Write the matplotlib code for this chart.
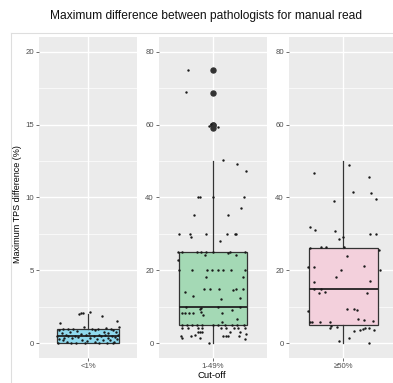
import matplotlib.pyplot as plt
from matplotlib.lines import Line2D

plt.rcParams['font.family'] = ['Liberation Sans', 'DejaVu Sans']

# categories and box summaries
cutoffs = ['<1%', '1-49%', '\u226550%']
q1s = [0, 5, 5]
medians = [0.5, 10, 15]
q3s = [1, 25, 26.25]
whisk_lo = [0, 0, 0]
whisk_hi = [2, 50, 50]
outliers = [[], [59, 60, 60, 68.75, 75], []]
box_colors = ['#8fd9ee', '#a4d9b5', '#f3d0dc']

# jittered raw points (value, horizontal jitter)
vals1 = [2.0, 2.05, 2.1, 2.15, 1.85, 1.55, 1.4, 1.1, 1.1, 1.05,
         1.0, 1.0, 1.0, 1.0, 1.0, 1.0, 0.9, 0.9, 0.9, 0.85,
         0.8, 0.8, 0.75, 0.7, 0.7, 0.7, 0.65, 0.6, 0.6, 0.6,
         0.55, 0.55, 0.5, 0.5, 0.5, 0.5, 0.5, 0.5, 0.45, 0.45,
         0.4, 0.4, 0.4, 0.35, 0.3, 0.3, 0.3, 0.25, 0.2, 0.2,
         0.2, 0.15, 0.1, 0.1, 0.1, 0.05, 0, 0, 0, 0,
         0, 0]
jit1 = [-0.11, -0.08, -0.06, 0.02, 0.17, 0.36, -0.34, 0.38, -0.05, 0.22,
        -0.30, -0.18, 0.05, 0.12, 0.28, -0.25, -0.36, 0.09, 0.31, -0.14,
        -0.22, 0.19, 0.34, -0.32, 0.01, 0.25, -0.09, -0.27, 0.14, 0.37,
        -0.03, 0.21, -0.38, -0.16, 0.07, 0.16, 0.29, -0.24, -0.12, 0.33,
        -0.29, 0.03, 0.24, -0.20, -0.35, 0.11, 0.35, -0.07, -0.31, 0.18,
        0.27, -0.01, -0.26, 0.08, 0.32, -0.15, -0.37, -0.21, -0.04, 0.13,
        0.23, 0.30]

vals2 = [75, 68.8, 60.2, 59.2, 59.6, 50.2, 49.2, 47.2,
         40, 40, 40, 40, 37.1, 35.2, 35.2,
         30, 30, 30, 30, 30, 30, 29.1, 28.2,
         25, 25, 25, 25, 25, 25, 25, 25, 24.1, 24.7, 24.1, 23,
         20, 20, 20, 20, 20, 20, 20, 20, 18.1, 18.1,
         14.2, 13, 15, 15, 15, 12.1, 14.7, 15, 15, 12.4,
         9.8, 9.5, 9.2, 10, 10, 10,
         8.2, 8.2, 8.2, 8.2, 7.7, 8.7, 8.2, 6.7, 5.8,
         5, 5, 5, 5, 5, 5, 5, 5, 5, 5, 5,
         4.1, 4.1, 4.1, 4.1, 4.1, 4.1, 4.1, 4.1, 4.1,
         3.2, 3.2, 3.2, 3.2, 3.2, 2.1, 2.1, 2.1, 2.1, 2.5, 1.2,
         2.1, 2.1, 1.5, 2.4, 1.6, 0.2]
jit2 = [-0.28, -0.30, -0.02, 0.06, -0.04, 0.11, 0.27, 0.37,
        -0.17, -0.14, 0.0, 0.34, 0.31, -0.21, 0.17,
        -0.38, -0.26, -0.08, 0.16, 0.24, 0.26, -0.24, 0.08,
        -0.39, -0.34, -0.18, -0.13, -0.08, 0.0, 0.19, 0.36, -0.09, 0.17, 0.26, -0.39,
        -0.38, -0.23, -0.07, -0.01, 0.05, 0.11, 0.20, 0.36, -0.08, 0.33,
        -0.31, -0.22, -0.10, -0.03, 0.07, 0.09, 0.22, 0.26, 0.33, 0.30,
        -0.13, -0.14, 0.21, 0.30, 0.05, -0.30,
        -0.35, -0.31, -0.27, -0.22, -0.11, -0.13, 0.10, 0.27, 0.10,
        -0.35, -0.29, -0.23, -0.18, -0.12, 0.0, 0.06, 0.13, 0.21, 0.27, 0.34,
        -0.35, -0.28, -0.17, -0.12, 0.09, 0.14, 0.23, 0.28, 0.35,
        -0.17, -0.15, -0.12, 0.19, 0.30, 0.11, 0.14, 0.17, 0.29, 0.37, 0.36,
        -0.36, -0.24, -0.35, -0.20, -0.14, -0.05]

vals3 = [46.8, 45.5, 41.6, 41.1, 39.5, 39.0, 49.0,
         32.0, 31.1, 30.7, 30.1, 30.1, 28.6, 29.3,
         26.2, 26.5, 26.5, 26.3, 25.5, 23.9,
         21.0, 21.0, 21.2, 20.2, 20.0, 18.3, 17.0, 16.7,
         14.8, 13.8, 14.0, 13.7, 15.0,
         9.3, 9.5, 9.2, 8.8,
         6.7, 6.4, 6.1, 6.0, 6.0, 6.0, 5.8,
         4.7, 4.5, 4.1, 4.3, 4.3, 3.7, 3.7, 3.9, 3.4,
         0.6, 1.4, 0.2]
jit3 = [-0.33, 0.28, 0.11, 0.30, 0.36, -0.10, 0.06,
        -0.37, -0.31, -0.09, 0.29, 0.36, -0.05, -0.01,
        -0.37, -0.25, -0.19, 0.01, 0.39, 0.04,
        -0.39, -0.33, 0.23, 0.40, -0.03, -0.08, 0.29, -0.32,
        -0.25, -0.27, -0.20, 0.26, -0.32,
        0.04, 0.12, 0.15, -0.39,
        0.16, 0.23, 0.33, -0.35, -0.26, -0.15, -0.37,
        -0.14, -0.07, -0.15, 0.24, 0.28, 0.34, 0.18, 0.21, 0.12,
        -0.05, 0.06, 0.28]

points = [(vals1, jit1), (vals2, jit2), (vals3, jit3)]
ylims = [(-1, 21), (-4, 84), (-4, 84)]
yticks = [[0, 5, 10, 15, 20], [0, 20, 40, 60, 80], [0, 20, 40, 60, 80]]
yminor = [[2.5, 7.5, 12.5, 17.5], [10, 30, 50, 70], [10, 30, 50, 70]]

W, H = 393, 383
fig = plt.figure(figsize=(W / 100, H / 100), dpi=100)

# light frame of the screenshot
fig.add_artist(Line2D([10.5 / W, 10.5 / W], [0, 1 - 32.5 / H], transform=fig.transFigure,
                      color='#dedede', lw=0.8))
fig.add_artist(Line2D([10.5 / W, 1], [1 - 32.5 / H, 1 - 32.5 / H], transform=fig.transFigure,
                      color='#dedede', lw=0.8))

panels = [(39, 98), (159, 108), (289, 109)]
top, bottom = 37, 358

for i, (left, width) in enumerate(panels):
    ax = fig.add_axes([left / W, (H - bottom) / H, width / W, (bottom - top) / H])
    ax.set_facecolor('#ebebeb')
    for s in ax.spines.values():
        s.set_visible(False)
    ax.set_xlim(0.4, 1.6)
    ax.set_ylim(*ylims[i])
    for y in yminor[i]:
        ax.axhline(y, color='white', lw=0.5, zorder=0)
    for y in yticks[i]:
        ax.axhline(y, color='white', lw=1.0, zorder=0)
    ax.axvline(1, color='white', lw=1.0, zorder=0)

    st = dict(med=medians[i], q1=q1s[i], q3=q3s[i], whislo=whisk_lo[i],
              whishi=whisk_hi[i], fliers=outliers[i])
    ax.bxp([st], positions=[1], widths=0.75, showcaps=False, patch_artist=True,
           boxprops=dict(facecolor=box_colors[i], edgecolor='#333333', lw=0.9),
           whiskerprops=dict(color='#333333', lw=0.9),
           medianprops=dict(color='#222222', lw=1.3),
           flierprops=dict(marker='o', markersize=3.6, markerfacecolor='#333333',
                           markeredgecolor='#333333'))

    v, j = points[i]
    ax.scatter([1 + d for d in j], v, s=3, color='#1a1a1a', lw=0, zorder=5)

    ax.set_yticks(yticks[i])
    ax.set_xticks([1])
    ax.set_xticklabels([cutoffs[i]])
    ax.tick_params(axis='both', length=2.5, width=0.5, color='#333333',
                   labelsize=5.6, labelcolor='#4d4d4d', pad=1.2)

fig.text(206 / W, 1 - 18.5 / H, 'Maximum difference between pathologists for manual read',
         ha='center', va='baseline', fontsize=8.65, color='#111111')
fig.text(18 / W, 1 - 204 / H, 'Maximum TPS difference (%)', rotation=90,
         ha='center', va='center', fontsize=6.5, color='black')
fig.text(212 / W, 1 - 375 / H, 'Cut-off', ha='center', va='center', fontsize=6.8,
         color='black')

fig.savefig('out.png', dpi=100)
